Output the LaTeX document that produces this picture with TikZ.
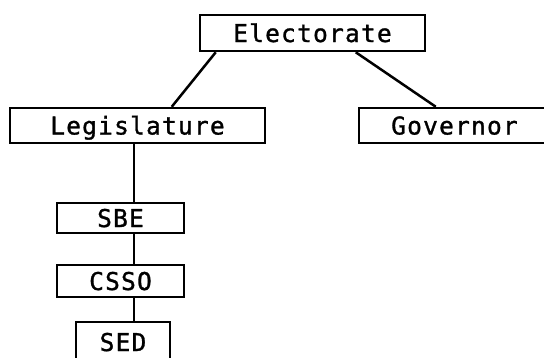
\documentclass[tikz,border=0pt]{standalone}
\usepackage{fontspec}
\newfontfamily\boxfont[LetterSpace=5,FakeBold=1.2]{DejaVu Sans Mono}
\begin{document}
\begin{tikzpicture}[x=1pt,y=-1pt,
  box/.style={draw, line width=2.5pt, rectangle, inner sep=0pt,
    text height=18pt, text depth=0pt,
    font=\boxfont\fontsize{24.5}{24.5}\selectfont},
  link/.style={line width=2.5pt}]
\useasboundingbox (0,0) rectangle (544,357);
\node[box, minimum width=225pt, minimum height=36pt] (E) at (312.5,33) {Electorate};
\node[box, minimum width=255pt, minimum height=35pt] (L) at (137.5,125.5) {Legislature};
\node[box, minimum width=191pt, minimum height=35pt] (G) at (454.5,125.5) {Governor};
\node[box, minimum width=127pt, minimum height=30pt] (S) at (120.5,218) {SBE};
\node[box, minimum width=127pt, minimum height=32pt] (C) at (120.5,281) {CSSO};
\node[box, minimum width=94pt, minimum height=40pt] (D) at (123,342) {SED};
\draw[link] ([xshift=17pt]E.south west) -- ([xshift=163pt]L.north west);
\draw[link] ([xshift=157pt]E.south west) -- ([xshift=78pt]G.north west);
\draw[link] ([xshift=125pt]L.south west) -- ([xshift=78pt]S.north west);
\draw[link] ([xshift=78pt]S.south west) -- ([xshift=78pt]C.north west);
\draw[link] ([xshift=78pt]C.south west) -- ([xshift=59pt]D.north west);
\end{tikzpicture}
\end{document}
